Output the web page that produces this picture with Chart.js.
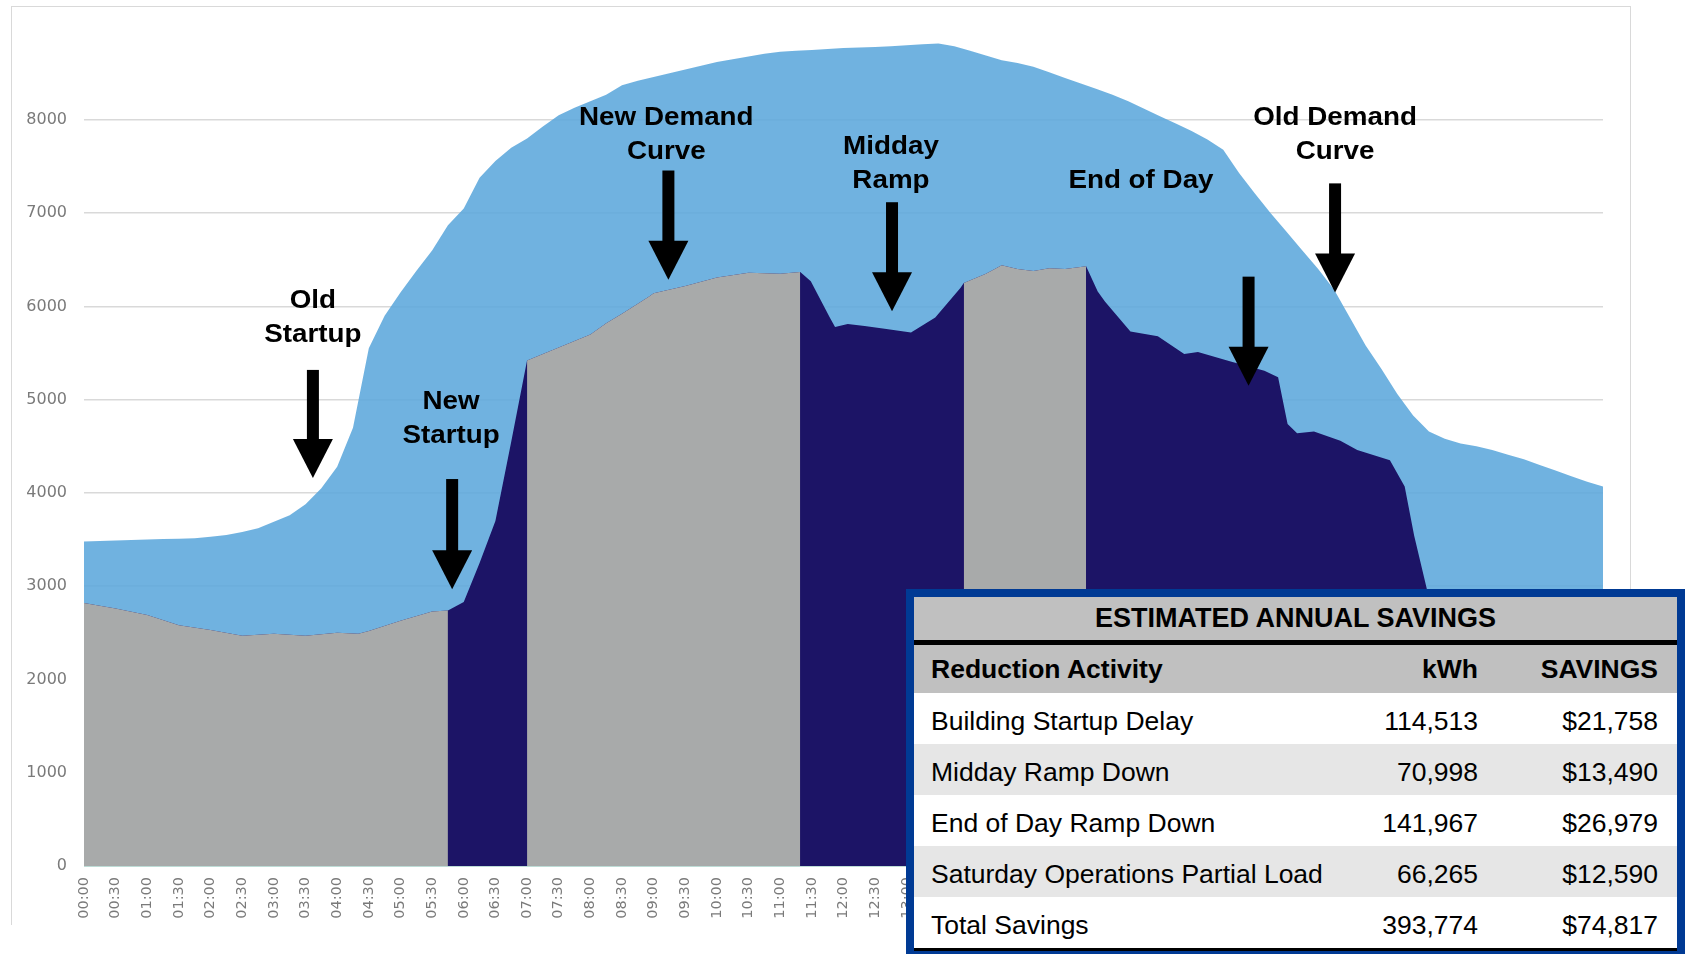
<!DOCTYPE html>
<html>
<head>
<meta charset="utf-8">
<script src="https://cdn.jsdelivr.net/npm/chart.js@4.4.1/dist/chart.umd.min.js"></script>
<style>
  html, body { margin: 0; padding: 0; background: #fff; width: 1691px; height: 954px; overflow: hidden; }
  #frame { position: absolute; left: 11px; top: 6px; width: 1620px; height: 919px; box-sizing: border-box;
           border: 1px solid #d9d9d9; border-bottom: none; }
  #wrap { position: absolute; left: 0; top: 0; width: 1691px; height: 925px; }
  #savings { position: absolute; left: 906px; top: 589px; width: 779px; height: 366px; box-sizing: border-box;
             border: 8px solid #003a94; border-bottom-width: 6px; background: #fff; }
  #savings table { border-collapse: collapse; width: 100%; table-layout: fixed;
                   font-family: "Liberation Sans", Arial, sans-serif; font-size: 26.5px; color: #000; }
  #savings td { padding: 0; white-space: nowrap; }
  #savings .title td { background: #c0c0c0; height: 43px; text-align: center; font-weight: bold; font-size: 27px;
                       border-bottom: 5px solid #000; }
  #savings .head td { background: #c0c0c0; height: 48px; font-weight: bold; }
  #savings .row td { height: 51px; }
  #savings .row td span { position: relative; top: 3px; }
  #savings .row.alt td { background: #e6e6e6; }
  #savings .last td { border-bottom: 3px solid #000; }
  #savings td.name { padding-left: 17px; }
  #savings td.kwh { text-align: right; }
  #savings td.usd { text-align: right; padding-right: 19px; }
</style>
</head>
<body>
<div id="frame"></div>
<div id="wrap"><canvas id="demandChart"></canvas></div>
<div id="savings">
  <table>
    <colgroup><col style="width:440px"><col style="width:124px"><col style="width:199px"></colgroup>
    <tbody id="savingsBody"></tbody>
  </table>
</div>
<script>
// old demand, every 15 minutes from 00:00 to 24:00
const oldDemand = [
  3480, 3485, 3490, 3495, 3500, 3505, 3510, 3515, 3530, 3550, 3580, 3620,
  3690, 3760, 3880, 4050, 4280, 4700, 5550, 5900, 6150, 6380, 6600, 6870,
  7050, 7380, 7560, 7700, 7800, 7930, 8050, 8130, 8200, 8270, 8370, 8420,
  8460, 8500, 8540, 8580, 8620, 8650, 8680, 8710, 8730, 8740, 8750, 8760,
  8770, 8775, 8780, 8790, 8800, 8810, 8820, 8790, 8740, 8690, 8640, 8610,
  8570, 8510, 8450, 8390, 8330, 8270, 8200, 8120, 8040, 7960, 7880, 7790,
  7680, 7430, 7210, 7000, 6800, 6600, 6400, 6180, 5880, 5580, 5330, 5060,
  4830, 4660, 4580, 4530, 4500, 4460, 4410, 4360, 4300, 4240, 4180, 4120,
  4070
];

// new demand curve
const newTimes = [
  '00:00', '00:30', '01:00', '01:30', '02:00', '02:30', '03:00', '03:30', '04:00', '04:20',
  '04:30', '05:00', '05:30', '05:45', '06:00', '06:15', '06:30', '06:45', '07:00', '07:30',
  '08:00', '08:15', '08:30', '08:55', '09:00', '09:30', '10:00', '10:30', '11:00', '11:19',
  '11:29', '11:47', '11:52', '12:04', '12:20', '12:39', '13:04', '13:27', '13:51', '13:54',
  '14:15', '14:30', '14:45', '15:00', '15:15', '15:30', '15:50', '16:01', '16:08', '16:32',
  '16:58', '17:23', '17:36', '18:07', '18:39', '18:52', '19:01', '19:10', '19:26', '19:51',
  '20:07', '20:38', '20:52', '21:01', '21:13', '21:15', '22:00', '23:00', '24:00'
];
const newDemand = [
  2820, 2760, 2690, 2580, 2530, 2470, 2490, 2470, 2500, 2490,
  2520, 2630, 2730, 2740, 2830, 3250, 3700, 4550, 5420, 5560,
  5700, 5820, 5920, 6100, 6140, 6220, 6310, 6360, 6350, 6370,
  6270, 5880, 5780, 5810, 5790, 5760, 5720, 5880, 6200, 6250,
  6350, 6440, 6400, 6380, 6410, 6400, 6430, 6160, 6050, 5730,
  5680, 5490, 5510, 5410, 5310, 5240, 4740, 4640, 4660, 4560,
  4460, 4350, 4070, 3540, 2970, 2950, 2910, 2900, 2880
];

// periods where the new curve is unchanged (grey)
const grayPeriods = [['00:00', '05:45'], ['07:00', '11:19'], ['13:54', '15:50'], ['21:15', '24:00']];

const savingsCols = ['Reduction Activity', 'kWh', 'SAVINGS'];
const savingsNames = ['Building Startup Delay', 'Midday Ramp Down', 'End of Day Ramp Down',
                      'Saturday Operations Partial Load', 'Total Savings'];
const savingsKwh = ['114,513', '70,998', '141,967', '66,265', '393,774'];
const savingsUsd = ['$21,758', '$13,490', '$26,979', '$12,590', '$74,817'];

const notes = [
  { lines: ['Old', 'Startup'], textAt: '03:37', textBase: 5980, arrowAt: '03:37', arrowFrom: 5319, arrowTo: 4160 },
  { lines: ['New', 'Startup'], textAt: '05:48', textBase: 4895, arrowAt: '05:49', arrowFrom: 4149, arrowTo: 2968 },
  { lines: ['New Demand', 'Curve'], textAt: '09:12', textBase: 7950, arrowAt: '09:14', arrowFrom: 7457, arrowTo: 6287 },
  { lines: ['Midday', 'Ramp'], textAt: '12:45', textBase: 7630, arrowAt: '12:46', arrowFrom: 7117, arrowTo: 5947 },
  { lines: ['End of Day'], textAt: '16:42', textBase: 7270, arrowAt: '18:24', arrowFrom: 6319, arrowTo: 5149 },
  { lines: ['Old Demand', 'Curve'], textAt: '19:46', textBase: 7950, arrowAt: '19:46', arrowFrom: 7319, arrowTo: 6149 }
];

function toMin(s) {
  const [h, m] = s.split(':').map(Number);
  return h * 60 + m;
}
function fmtTime(v) {
  const h = Math.floor(v / 60), m = v % 60;
  return String(h).padStart(2, '0') + ':' + String(m).padStart(2, '0');
}

const oldPoints = oldDemand.map((v, i) => ({ x: i * 15, y: v }));
const newPoints = newTimes.map((t, i) => ({ x: toMin(t), y: newDemand[i] }));
const grayPoints = [];
grayPeriods.forEach(([a, b]) => {
  newPoints.forEach(p => {
    if (p.x >= toMin(a) && p.x <= toMin(b)) grayPoints.push(p);
  });
  grayPoints.push({ x: toMin(b) + 1, y: null });
});

// table
const body = document.getElementById('savingsBody');
let html = '<tr class="title"><td colspan="3">ESTIMATED ANNUAL SAVINGS</td></tr>';
html += '<tr class="head"><td class="name">' + savingsCols[0] + '</td><td class="kwh">' + savingsCols[1] +
        '</td><td class="usd">' + savingsCols[2] + '</td></tr>';
savingsNames.forEach((n, i) => {
  const cls = 'row' + (i % 2 ? ' alt' : '') + (i === savingsNames.length - 1 ? ' last' : '');
  html += '<tr class="' + cls + '"><td class="name"><span>' + n + '</span></td><td class="kwh"><span>' + savingsKwh[i] +
          '</span></td><td class="usd"><span>' + savingsUsd[i] + '</span></td></tr>';
});
body.innerHTML = html;

const notesPlugin = {
  id: 'notes',
  afterDatasetsDraw(chart) {
    const { ctx, scales: { x, y } } = chart;
    ctx.save();
    ctx.fillStyle = '#000';
    ctx.font = 'bold 25.5px "Liberation Sans", Arial, sans-serif';
    ctx.textAlign = 'center';
    ctx.textBaseline = 'alphabetic';
    notes.forEach(n => {
      const tx = x.getPixelForValue(toMin(n.textAt));
      n.lines.forEach((line, i) => {
        const ty = y.getPixelForValue(n.textBase) + i * 34;
        ctx.save();
        ctx.translate(tx, ty);
        ctx.scale(1.09, 1);
        ctx.fillText(line, 0, 0);
        ctx.restore();
      });
      const ax = x.getPixelForValue(toMin(n.arrowAt));
      const top = y.getPixelForValue(n.arrowFrom);
      const tip = y.getPixelForValue(n.arrowTo);
      ctx.fillRect(ax - 6, top, 12, tip - 39 - top + 1);
      ctx.beginPath();
      ctx.moveTo(ax - 20, tip - 39);
      ctx.lineTo(ax + 20, tip - 39);
      ctx.lineTo(ax, tip);
      ctx.closePath();
      ctx.fill();
    });
    ctx.restore();
  }
};

const ctx = document.getElementById('demandChart').getContext('2d');
new Chart(ctx, {
  type: 'line',
  data: {
    datasets: [
      { label: 'New Demand', data: grayPoints, backgroundColor: '#a8aaaa', borderColor: 'transparent', fill: 'origin', order: 1 },
      { label: 'Reduced', data: newPoints, backgroundColor: '#1c1466', borderColor: 'transparent', fill: 'origin', order: 2 },
      { label: 'Old Demand', data: oldPoints, backgroundColor: 'rgba(92,167,220,0.88)', borderColor: 'transparent', fill: 'origin', order: 3 }
    ]
  },
  options: {
    responsive: true,
    maintainAspectRatio: false,
    animation: false,
    elements: { point: { radius: 0 }, line: { borderWidth: 0, tension: 0 } },
    layout: { padding: { left: 0, right: 88, top: 20, bottom: 0 } },
    plugins: { legend: { display: false }, tooltip: { enabled: false } },
    scales: {
      x: {
        type: 'linear',
        min: 0,
        max: 1440,
        afterFit(s) { s.height = 59; },
        grid: { display: false, drawTicks: false },
        border: { display: false },
        ticks: {
          stepSize: 30, autoSkip: false, minRotation: 90, maxRotation: 90, padding: 11,
          color: '#7a7a7a', font: { family: 'DejaVu Sans', size: 14.5 },
          callback: v => fmtTime(v)
        }
      },
      y: {
        min: 0,
        max: 9000,
        afterFit(s) { s.width = 84; },
        afterBuildTicks(s) { s.ticks = s.ticks.filter(t => t.value <= 8000); },
        grid: { color: c => (c.tick && c.tick.value === 0 ? '#7cb9ad' : '#d9d9d9'), lineWidth: 1.5, drawTicks: false },
        border: { display: false },
        ticks: {
          stepSize: 1000, padding: 17, color: '#7a7a7a', font: { family: 'DejaVu Sans', size: 16 },
          callback: v => String(v)
        }
      }
    }
  },
  plugins: [notesPlugin]
});
</script>
</body>
</html>
